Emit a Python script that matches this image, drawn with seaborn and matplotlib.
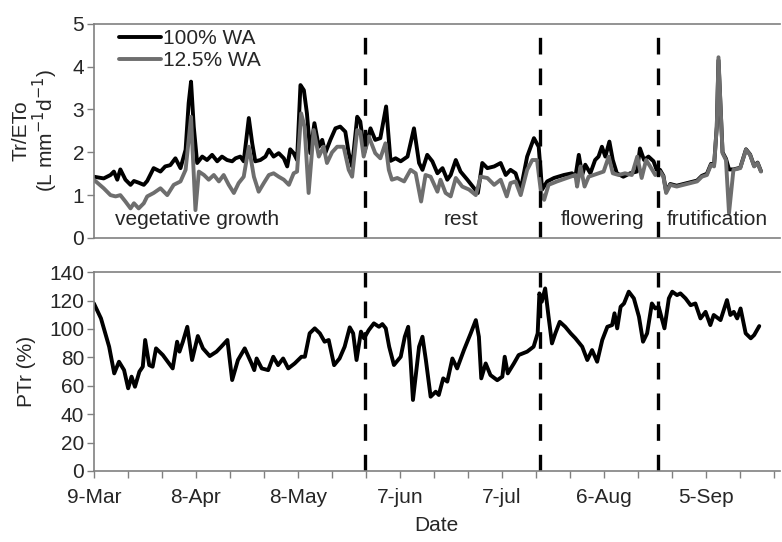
import pandas as pd
import matplotlib.pyplot as plt
import matplotlib.ticker as mticker
import matplotlib.dates as mdates
import seaborn as sns

# days counted from 9-Mar
start = pd.Timestamp('2011-03-09')

# Tr/ETo, 100% WA
wa100_day = [0, 2.9, 4.9, 5.9, 6.9, 7.8, 9.3, 10.8, 11.8, 13.2, 14.7, 15.7, 17.6, 19.6, 21, 22.5,
             24, 25.5, 27, 27.9, 28.6, 29.4, 30.4, 31.9, 33.3, 34.8, 36.3, 37.7, 39.2, 40.7, 41.7,
             43.1, 44.1, 45.6, 46.6, 47.5, 49, 50.5, 51.5, 52.9, 54.4, 55.9, 56.9, 57.8, 58.8,
             59.8, 60.8, 61.8, 62.7, 63.7, 64.9, 66.2, 67.2, 68.1, 69.6, 71.1, 72.5, 74, 75, 76,
             77.5, 78.4, 79.6, 81.4, 82.8, 84.3, 86, 87.3, 88.8, 90.3, 92.3, 94.2, 95.7, 96.7,
             98.1, 99.6, 101.1, 102.6, 104, 105, 106.5, 107.9, 109.9, 111.9, 113, 114.3, 115.8,
             117.8, 119.7, 121.2, 122.6, 124.1, 125.6, 127.5, 129.5, 130.9, 131.9, 133.4, 135.4,
             138.3, 140.7, 141.7, 142.7, 143.7, 144.6, 146.1, 147.5, 148.5, 149.5, 150.5, 151.7,
             152.7, 153.9, 155.8, 157.8, 159.8, 160.7, 161.9, 163.2, 164.7, 165.6, 166.6, 167.6,
             168.4, 169.6, 171.5, 173.5, 175.5, 177.5, 178.9, 180.4, 181.6, 182.5, 183.3, 183.8,
             185, 186, 186.9, 188.2, 190.2, 191.9, 193.1, 194.3, 195.3, 196.3]
wa100_val = [1.43, 1.39, 1.47, 1.55, 1.36, 1.6, 1.36, 1.24, 1.33, 1.29, 1.24, 1.33, 1.63, 1.55, 1.67,
             1.7, 1.86, 1.63, 2.06, 3.15, 3.65, 2.6, 1.75, 1.9, 1.82, 1.94, 1.79, 1.9, 1.82, 1.79,
             1.86, 1.9, 1.79, 2.8, 2.21, 1.79, 1.82, 1.9, 2.06, 1.9, 1.98, 1.86, 1.67, 2.07, 1.98,
             1.82, 3.57, 3.45, 2.91, 1.98, 2.68, 2.13, 2.29, 1.98, 2.29, 2.56, 2.6, 2.48, 1.98,
             1.67, 2.83, 2.72, 2.0, 2.56, 2.29, 2.33, 3.07, 1.8, 1.86, 1.79, 1.9, 2.56, 1.75, 1.59,
             1.94, 1.79, 1.51, 1.63, 1.36, 1.47, 1.82, 1.55, 1.36, 1.16, 1.05, 1.75, 1.63, 1.67,
             1.75, 1.47, 1.59, 1.51, 1.13, 1.9, 2.33, 2.13, 1.13, 1.32, 1.40, 1.47, 1.51, 1.43,
             1.94, 1.47, 1.71, 1.51, 1.82, 1.9, 2.13, 1.9, 2.25, 1.82, 1.51, 1.43, 1.51, 1.55, 2.09,
             1.82, 1.9, 1.79, 1.59, 1.59, 1.45, 1.08, 1.26, 1.22, 1.26, 1.3, 1.34, 1.45, 1.5, 1.73,
             1.7, 2.6, 4.15, 2.0, 1.85, 1.6, 1.6, 1.64, 2.07, 1.95, 1.68, 1.76, 1.56]

# Tr/ETo, 12.5% WA
wa125_day = [0, 2.9, 4.9, 6.4, 7.8, 9.3, 10.8, 11.8, 13.2, 14.7, 15.7, 17.6, 19.6, 21.6, 23.5, 25.5,
             27, 28.6, 29.4, 29.9, 30.9, 32.4, 33.8, 35.3, 36.8, 38.2, 39.7, 41.2, 42.6, 44.1,
             45.6, 47.1, 48.5, 50, 51.5, 52.9, 54.4, 55.9, 57.4, 58.8, 59.8, 61, 62, 63.2, 64.7,
             66.2, 67.6, 68.6, 70.1, 71.6, 73.5, 75, 76, 77.5, 78.4, 79.4, 80.9, 82.8, 84.3, 85.8,
             86.8, 87.7, 89.3, 91.3, 93.2, 94.7, 96.3, 97.6, 99.1, 101.1, 102, 103.5, 105, 106.5,
             108.4, 110.4, 112.4, 113.8, 115.8, 117.8, 119.7, 121.5, 122.6, 124.1, 125.6, 127.5,
             129, 130.4, 131.6, 132.5, 133.8, 136.3, 139.2, 141.7, 142.2, 143.2, 144.4, 145.6,
             147.1, 148.5, 150, 151.5, 152.7, 154.4, 156.3, 158.3, 159.9, 161.2, 162.5, 163.7,
             165.2, 166.6, 167.6, 168.4, 169.6, 171.5, 173.5, 175.5, 177.5, 178.9, 180.4, 181.6,
             182.5, 183.3, 183.8, 185, 186, 186.9, 188.2, 190.2, 191.9, 193.1, 194.3, 195.3, 196.3]
wa125_val = [1.36, 1.16, 1.0, 0.97, 1.0, 0.85, 0.69, 0.81, 0.69, 0.81, 0.97, 1.05, 1.16, 1.0, 1.24,
             1.32, 1.59, 2.83, 1.51, 0.65, 1.55, 1.47, 1.36, 1.47, 1.32, 1.47, 1.24, 1.05, 1.28,
             1.43, 2.13, 1.43, 1.08, 1.28, 1.47, 1.51, 1.43, 1.36, 1.24, 1.51, 1.55, 2.91, 2.6,
             1.05, 2.52, 1.9, 2.13, 1.75, 2.0, 2.13, 2.13, 1.59, 1.43, 2.52, 2.48, 1.9, 2.37, 1.98,
             1.86, 2.21, 1.59, 1.36, 1.40, 1.32, 1.59, 1.51, 0.85, 1.47, 1.43, 1.08, 1.36, 1.05,
             0.97, 1.40, 1.2, 1.13, 1.0, 1.43, 1.40, 1.24, 1.36, 0.97, 1.28, 1.32, 1.0, 1.59, 1.82,
             1.82, 1.05, 0.89, 1.24, 1.32, 1.40, 1.47, 1.2, 1.67, 1.2, 1.43, 1.47, 1.51, 1.55, 1.9,
             1.51, 1.47, 1.51, 1.47, 1.9, 1.40, 1.82, 1.67, 1.47, 1.55, 1.43, 1.05, 1.24, 1.2, 1.24,
             1.28, 1.32, 1.43, 1.47, 1.71, 1.67, 2.6, 4.22, 1.98, 1.82, 0.58, 1.59, 1.63, 2.06,
             1.94, 1.67, 1.75, 1.55]

# PTr (%)
ptr_day = [0, 2.1, 4.5, 6, 7.4, 8.9, 10.1, 11.1, 12.1, 13.4, 14.4, 15.1, 16.3, 17.3, 18.3, 20.3,
           23.2, 24.5, 25.2, 26.2, 27.5, 28.9, 30.6, 32.1, 34.1, 36.1, 37.5, 39.3, 40.7, 42.4, 44.4,
           46.4, 47.2, 47.9, 49.4, 51.3, 52.8, 54.2, 55.7, 57.2, 59.1, 61.1, 62.1, 63.5, 65, 66.5,
           67.9, 69.1, 70.7, 72.3, 73.8, 75.3, 76.3, 77.3, 78.6, 79.5, 80.9, 82.4, 83.9, 84.9,
           85.9, 86.9, 88.3, 90.3, 91.5, 92.5, 93.2, 93.9, 94.7, 95.7, 96.7, 97.7, 99.1, 100.6,
           101.5, 102.8, 104, 105.5, 106.9, 108.9, 110.9, 112.4, 113.3, 114, 115.3, 116.7, 118.7,
           120.2, 120.9, 121.8, 123.6, 125, 127.5, 129.4, 130.6, 131.1, 131.8, 132.8, 133.8, 134.8,
           135.8, 137.1, 138.7, 140.3, 141.7, 143.7, 145.2, 146.6, 148.1, 149.6, 151.1, 152.5,
           153.2, 154, 155, 156, 157.4, 158.9, 160.4, 161.6, 162.8, 164.2, 165.2, 166.2, 167.9,
           169.2, 170.2, 171.6, 172.6, 174.1, 175.6, 177, 178.5, 180, 181.4, 182.4, 184.4, 186.3,
           187.3, 188.3, 189.3, 190.3, 191.8, 193.3, 194.3, 195.8]
ptr_val = [118, 107.4, 87.5, 68.7, 76.9, 71, 58.2, 66.4, 59.3, 69.9, 73.4, 92.2, 74.5, 73.4, 86.3,
           81.6, 72.2, 91, 84, 91, 101.5, 78.1, 95, 86.3, 80.9, 84, 87.5, 92.2, 64, 78.1, 86.3,
           75.7, 71, 79.2, 72.2, 71, 80.4, 74.5, 79.2, 72.2, 75.7, 80.4, 80.4, 96.9, 100.4, 96.9,
           91, 92.2, 74.5, 79.2, 87.5, 101.1, 96.9, 78.1, 98.1, 93.4, 99.2, 103.9, 101.5, 103.4,
           100.4, 87.5, 74.6, 80.4, 94.5, 101.5, 78.1, 50, 66.4, 87.5, 94.5, 78.1, 52.3, 55.8,
           53.5, 65.2, 62.9, 79.2, 72.2, 85.1, 96.9, 106.2, 94.5, 65.2, 75.7, 67.5, 63.9, 66.4,
           80.4, 68.7, 75.7, 81.6, 84, 87.5, 96.9, 125, 119.1, 128.5, 108.6, 89.8, 96.9, 105,
           101.5, 96.9, 93.4, 87.5, 78.1, 85.1, 76.9, 92.2, 101.5, 102.7, 111, 100.4, 115.6, 117.9,
           126.2, 121.5, 108.6, 91, 96.9, 117.9, 114.4, 115.6, 100.4, 121.5, 126.2, 123.8, 125,
           121.5, 116.7, 117.9, 107.4, 112, 102.7, 109.8, 106.2, 120.3, 109.8, 112, 107.4, 114.4,
           96.9, 93.4, 95.7, 102]

phase_breaks = [79.7, 131.2, 165.9]
phase_names = ['vegetative growth', 'rest', 'flowering', 'frutification']
phase_text_day = [30.3, 108, 149.7, 183.5]

tick_days = [0, 30, 60, 90, 120, 150, 180]
tick_labels = ['9-Mar', '8-Apr', '8-May', '7-jun', '7-jul', '6-Aug', '5-Sep']


def to_dates(days):
    return start + pd.to_timedelta(days, unit='D')


sns.set_style('white')
plt.rcParams['font.family'] = ['Liberation Sans', 'DejaVu Sans']
fs = 15
lw = 2.8

top_df = pd.DataFrame({'date': to_dates(wa100_day), 'v': wa100_val})
gray_df = pd.DataFrame({'date': to_dates(wa125_day), 'v': wa125_val})
ptr_df = pd.DataFrame({'date': to_dates(ptr_day), 'v': ptr_val})

fig = plt.figure(figsize=(7.82, 5.42), dpi=100)
ax1 = fig.add_axes([0.120, 0.561, 0.877, 0.395])
ax2 = fig.add_axes([0.120, 0.131, 0.877, 0.367])

line_kw = dict(lw=lw, solid_joinstyle='round', solid_capstyle='round')
sns.lineplot(data=top_df, x='date', y='v', ax=ax1, color='black', label='100% WA', **line_kw)
sns.lineplot(data=gray_df, x='date', y='v', ax=ax1, color='#6e6e6e', label='12.5% WA', **line_kw)
sns.lineplot(data=ptr_df, x='date', y='v', ax=ax2, color='black', **line_kw)

xlim = (start, start + pd.Timedelta(days=201.8))
for ax in (ax1, ax2):
    for d in phase_breaks:
        ax.axvline(start + pd.Timedelta(days=d), color='black', lw=2.4, dashes=(5, 4.2))
    ax.set_xlim(xlim)
    for s in ['top', 'left', 'bottom']:
        ax.spines[s].set_color('#808080')
        ax.spines[s].set_linewidth(1.2)
    ax.spines['right'].set_visible(False)
    ax.tick_params(axis='y', direction='out', length=5, width=1, color='#808080',
                   labelsize=fs, left=True, pad=2)

ax1.set_ylim(0, 5)
ax1.set_yticks(range(0, 6))
ax1.set_xticks([])
ax1.set_xlabel('')
ax1.set_ylabel('Tr/ETo\n(L mm$^{-1}$d$^{-1}$)', fontsize=fs, linespacing=1.0)
ax1.yaxis.set_label_coords(-0.05, 0.5)
for name, d in zip(phase_names, phase_text_day):
    ax1.text(start + pd.Timedelta(days=d), 0.42, name, fontsize=fs, ha='center', va='center')
ax1.legend(loc='upper left', bbox_to_anchor=(0.037, 0.975), frameon=False, fontsize=fs,
           handlelength=2.0, handletextpad=0.1, labelspacing=0.15, borderaxespad=0, borderpad=0)

ax2.set_ylim(0, 140)
ax2.set_yticks(range(0, 141, 20))
ax2.set_xticks(to_dates(tick_days))
ax2.set_xticklabels(tick_labels)
ax2.xaxis.set_minor_locator(mticker.FixedLocator(mdates.date2num(to_dates(list(range(0, 202, 10))))))
ax2.tick_params(axis='x', which='both', direction='out', length=5, width=1, color='#808080',
                labelsize=fs, bottom=True, pad=7)
ax2.set_ylabel('PTr (%)', fontsize=fs)
ax2.yaxis.set_label_coords(-0.085, 0.5)
ax2.set_xlabel('Date', fontsize=fs, labelpad=7)

fig.savefig('out.png', dpi=100)
